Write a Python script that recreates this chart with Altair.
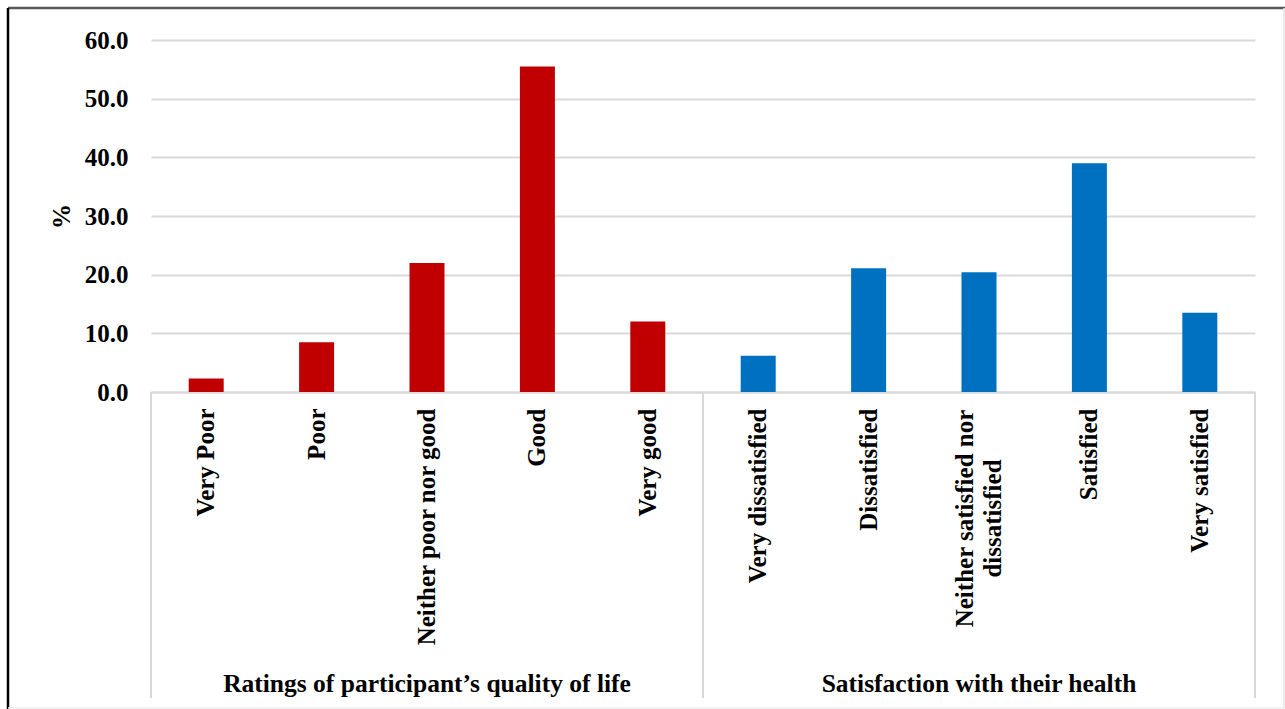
import altair as alt
import pandas as pd

# ---- data ----
quality_cats = ["Very Poor", "Poor", "Neither poor nor good", "Good", "Very good"]
quality_vals = [2.3, 8.5, 22.0, 55.5, 12.0]
health_cats = ["Very dissatisfied", "Dissatisfied", "Neither satisfied nor dissatisfied",
               "Satisfied", "Very satisfied"]
health_vals = [6.2, 21.1, 20.4, 39.0, 13.5]
group_names = ["Ratings of participant\u2019s quality of life", "Satisfaction with their health"]
y_ticks = [0, 10, 20, 30, 40, 50, 60]

all_cats = quality_cats + health_cats
df = pd.DataFrame({
    "cat": all_cats,
    "value": quality_vals + health_vals,
    "group": [group_names[0]] * 5 + [group_names[1]] * 5,
})
groups_df = pd.DataFrame({"cat": [quality_cats[2], health_cats[2]], "label": group_names})
sep_start = pd.DataFrame({"cat": [quality_cats[0], health_cats[0]]})
sep_end = pd.DataFrame({"cat": [health_cats[-1]]})
one = pd.DataFrame({"a": [0]})

FONT = "Liberation Serif"
GRID = "#d9d9d9"
W, H = 1104, 352

xscale = alt.Scale(domain=all_cats, paddingInner=0, paddingOuter=0)
long_label = health_cats[2]
is_long = f"datum.value == '{long_label}'"

x_axis = alt.Axis(
    title=None,
    labelAngle=-90,
    labelFont=FONT,
    labelFontSize=25,
    labelFontWeight="bold",
    labelColor="#000000",
    labelLimit=400,
    labelLineHeight=28,
    labelExpr=f"datum.label == '{long_label}' ? ['Neither satisfied nor', 'dissatisfied'] : datum.label",
    labelAlign={"condition": {"test": is_long, "value": "center"}, "value": "right"},
    labelPadding={"condition": {"test": is_long, "value": 126}, "value": 16},
    labelOffset={"condition": {"test": is_long, "value": -14}, "value": 0},
    ticks=False,
    domainColor=GRID,
    domainWidth=2,
    grid=False,
)

y_axis = alt.Axis(
    title="%",
    titleFont=FONT,
    titleFontSize=25,
    titleFontWeight="bold",
    titleColor="#000000",
    titleAngle=-90,
    titleX=-90,
    titleY=H / 2,
    titleAlign="center",
    titleBaseline="middle",
    values=y_ticks,
    format=".1f",
    labelFont=FONT,
    labelFontSize=25,
    labelFontWeight="bold",
    labelColor="#000000",
    labelPadding=23,
    ticks=False,
    domain=False,
    gridColor=GRID,
    gridWidth=2,
)

bars = alt.Chart(df).mark_bar(size=35).encode(
    x=alt.X("cat:N", sort=all_cats, scale=xscale, axis=x_axis),
    y=alt.Y("value:Q", scale=alt.Scale(domain=[0, 60], nice=False), axis=y_axis),
    color=alt.Color("group:N", scale=alt.Scale(domain=group_names, range=["#C00000", "#0070C0"]), legend=None),
)

sep1 = alt.Chart(sep_start).mark_rule(color=GRID, strokeWidth=2).encode(
    x=alt.X("cat:N", sort=all_cats, scale=xscale, bandPosition=0),
    y=alt.value(H),
    y2=alt.value(658),
)
sep2 = alt.Chart(sep_end).mark_rule(color=GRID, strokeWidth=2).encode(
    x=alt.X("cat:N", sort=all_cats, scale=xscale, bandPosition=1),
    y=alt.value(H),
    y2=alt.value(658),
)

glabels = alt.Chart(groups_df).mark_text(
    font=FONT, fontSize=25.5, fontWeight="bold", color="#000000", baseline="alphabetic", align="center"
).encode(
    x=alt.X("cat:N", sort=all_cats, scale=xscale),
    y=alt.value(652),
    text="label:N",
)

frame_top = alt.Chart(one).mark_rule(color="#595959", strokeWidth=2.5).encode(
    x=alt.value(-143), x2=alt.value(1134), y=alt.value(-32))
frame_left = alt.Chart(one).mark_rule(color="#000000", strokeWidth=2.5).encode(
    x=alt.value(-143), y=alt.value(-32), y2=alt.value(669))
frame_right = alt.Chart(one).mark_rule(color="#e6e6e6", strokeWidth=1.5).encode(
    x=alt.value(1133), y=alt.value(-32), y2=alt.value(668))
frame_bottom = alt.Chart(one).mark_rule(color="#eeeeee", strokeWidth=1.5).encode(
    x=alt.value(-143), x2=alt.value(1133), y=alt.value(668))

chart = alt.layer(
    bars, sep1, sep2, glabels, frame_top, frame_left, frame_right, frame_bottom
).properties(
    width=W,
    height=H,
    autosize=alt.AutoSizeParams(type="none"),
    padding={"left": 151, "top": 40, "right": 30, "bottom": 317},
    background="white",
).configure_view(stroke=None)

chart.save("out.html", embed_options={"renderer": "svg", "actions": False})
